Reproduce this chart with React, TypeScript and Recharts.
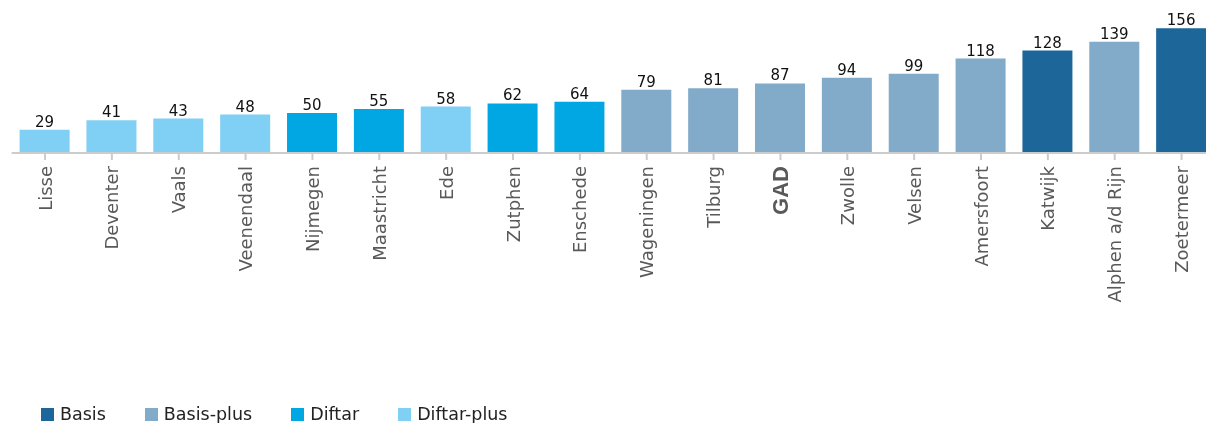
import React from 'react';
import { BarChart, Bar, XAxis, YAxis, Cell, LabelList, Legend } from 'recharts';

// kosten per gemeente, oplopend gesorteerd
const gemeenten = ['Lisse', 'Deventer', 'Vaals', 'Veenendaal', 'Nijmegen', 'Maastricht', 'Ede', 'Zutphen', 'Enschede',
  'Wageningen', 'Tilburg', 'GAD', 'Zwolle', 'Velsen', 'Amersfoort', 'Katwijk', 'Alphen a/d Rijn', 'Zoetermeer'];
const kosten = [29, 41, 43, 48, 50, 55, 58, 62, 64, 79, 81, 87, 94, 99, 118, 128, 139, 156];
const systemen = ['Diftar-plus', 'Diftar-plus', 'Diftar-plus', 'Diftar-plus', 'Diftar', 'Diftar', 'Diftar-plus', 'Diftar', 'Diftar',
  'Basis-plus', 'Basis-plus', 'Basis-plus', 'Basis-plus', 'Basis-plus', 'Basis-plus', 'Basis', 'Basis-plus', 'Basis'];

const systeemNamen = ['Basis', 'Basis-plus', 'Diftar', 'Diftar-plus'];
const systeemKleuren = ['#1d6699', '#82aac9', '#00a7e3', '#80cff4'];

const data = gemeenten.map((naam, i) => ({ naam, kosten: kosten[i], systeem: systemen[i] }));

const kleurVan = (systeem: string) => systeemKleuren[systeemNamen.indexOf(systeem)];

const GemeenteTick = (props: any) => {
  const { x, y, payload } = props;
  const isGad = payload.value === 'GAD';
  return (
    <g transform={`translate(${x},${y})`}>
      <text
        transform="rotate(-90)"
        x={-4}
        y={isGad ? 8 : 6.5}
        textAnchor="end"
        fill="#595959"
        fontSize={isGad ? 22 : 18}
        fontWeight={isGad ? 'bold' : 'normal'}
        fontFamily={isGad ? '"Liberation Sans", Arial, sans-serif' : '"DejaVu Sans", Verdana, sans-serif'}
      >
        {payload.value}
      </text>
    </g>
  );
};

const legendaInhoud = () => (
  <div style={{ display: 'flex', alignItems: 'center', fontFamily: '"DejaVu Sans", Verdana, sans-serif', fontSize: 17.5, color: '#222', height: 20 }}>
    {systeemNamen.map((naam, i) => (
      <div key={naam} style={{ display: 'flex', alignItems: 'center', marginRight: 39 }}>
        <span style={{ display: 'inline-block', width: 13, height: 13, background: systeemKleuren[i], marginRight: 6 }} />
        <span>{naam}</span>
      </div>
    ))}
  </div>
);

export default function App() {
  return (
    <div style={{ position: 'fixed', left: 8, top: 8, width: 1198, height: 420, overflow: 'hidden' }}>
      <BarChart width={1207} height={415} data={data} margin={{ top: 17, right: 0, left: 3.6, bottom: 110 }}>
        <XAxis
          dataKey="naam"
          interval={0}
          height={160}
          tick={<GemeenteTick />}
          tickSize={7}
          tickMargin={2}
          axisLine={{ stroke: '#cccccc', strokeWidth: 2 }}
          tickLine={{ stroke: '#cccccc', strokeWidth: 2 }}
        />
        <YAxis hide domain={[0, 160]} />
        <Legend
          layout="horizontal"
          verticalAlign="middle"
          align="center"
          content={legendaInhoud}
          wrapperStyle={{ top: 396, left: 33 }}
        />
        <Bar dataKey="kosten" barSize={50} isAnimationActive={false}>
          {data.map((d) => (
            <Cell key={d.naam} fill={kleurVan(d.systeem)} />
          ))}
          <LabelList dataKey="kosten" position="top" offset={3} fill="#111" fontSize={15} fontFamily='"DejaVu Sans", Verdana, sans-serif' />
        </Bar>
      </BarChart>
    </div>
  );
}
